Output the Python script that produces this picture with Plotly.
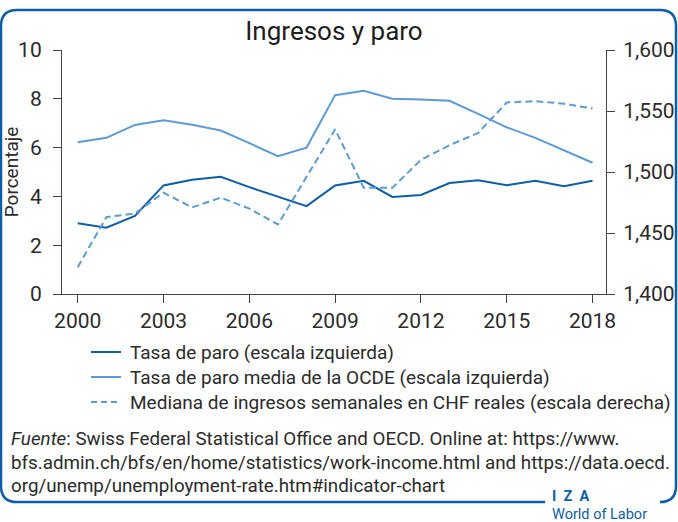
import plotly.graph_objects as go

years = list(range(2000, 2019))
tasa_paro = [2.9, 2.72, 3.2, 4.45, 4.68, 4.8, 4.38, 3.98, 3.6, 4.45,
             4.64, 3.98, 4.06, 4.55, 4.66, 4.46, 4.64, 4.42, 4.64]
tasa_ocde = [6.22, 6.4, 6.93, 7.12, 6.94, 6.7, 6.18, 5.65, 6.0, 8.15,
             8.33, 8.0, 7.97, 7.92, 7.38, 6.83, 6.4, 5.9, 5.38]
ingresos = [1422, 1463, 1466, 1483, 1471, 1479, 1470, 1457, 1496, 1535,
            1487, 1487, 1510, 1522, 1532, 1557, 1558, 1556, 1552]

names = ["Tasa de paro (escala izquierda)",
         "Tasa de paro media de la OCDE (escala izquierda)",
         "Mediana de ingresos semanales en CHF reales (escala derecha)"]
left_ticks = [0, 2, 4, 6, 8, 10]
right_ticks = [1400, 1450, 1500, 1550, 1600]
x_ticks = [2000, 2003, 2006, 2009, 2012, 2015, 2018]

DARK = "#0d5ea6"
LIGHT = "#5c9bd3"
FONT = "Roboto"
TXT = "#2b2b2b"
AX = "#444444"

W, H = 678, 522
L, R, T, B = 62, 606, 50, 294


def px(x):
    return (x - L) / (R - L)


def py(y):
    return (B - y) / (B - T)


styles = [dict(color=DARK, width=2),
          dict(color=LIGHT, width=2),
          dict(color=LIGHT, width=2, dash="7px,4px")]

fig = go.Figure()
fig.add_trace(go.Scatter(x=years, y=tasa_paro, name=names[0], mode="lines",
                         line=styles[0], showlegend=False))
fig.add_trace(go.Scatter(x=years, y=tasa_ocde, name=names[1], mode="lines",
                         line=styles[1], showlegend=False))
fig.add_trace(go.Scatter(x=years, y=ingresos, name=names[2], mode="lines",
                         yaxis="y2", line=styles[2], showlegend=False))

axis_common = dict(showline=True, linecolor=AX, linewidth=1.2, ticks="outside",
                   ticklen=8, tickcolor=AX, tickwidth=1.2, showgrid=False,
                   zeroline=False, automargin=False,
                   tickfont=dict(family=FONT, size=21, color=TXT))

fig.update_layout(
    width=W, height=H,
    margin=dict(l=L, r=W - R, t=T, b=H - B, pad=0, autoexpand=False),
    paper_bgcolor="white", plot_bgcolor="white",
    font=dict(family=FONT, color=TXT),
    title=dict(text="Ingresos y paro", x=0.5, xanchor="center", xref="paper",
               y=1 - 22 / H, yanchor="top",
               font=dict(family=FONT, size=26, color="#1e1e1e")),
    xaxis=dict(range=[1999.45, 2018.47], tickvals=x_ticks, **axis_common),
    yaxis=dict(range=[0, 10], tickvals=left_ticks, ticklabelstandoff=7,
               title=dict(text="Porcentaje", standoff=0,
                          font=dict(family=FONT, size=19, color=TXT)),
               **axis_common),
    yaxis2=dict(range=[1400, 1600], tickvals=right_ticks, tickformat=",d",
                ticklabelstandoff=4,
                overlaying="y", side="right", **axis_common),
    showlegend=False,
)

# Legend (drawn as line samples + text)
leg_y = [352, 377, 402]
for name, st, yy in zip(names, styles, leg_y):
    sample = dict(st)
    if "dash" in sample:
        sample["dash"] = "6px,4px"
    fig.add_shape(type="line", xref="paper", yref="paper",
                  x0=px(91), x1=px(121), y0=py(yy), y1=py(yy), line=sample)
    fig.add_annotation(text=name, xref="paper", yref="paper", x=px(128), y=py(yy),
                       xanchor="left", yanchor="middle", showarrow=False,
                       font=dict(family=FONT, size=19, color=TXT))

src_lines = [
    "<i>Fuente</i>: Swiss Federal Statistical Office and OECD. Online at: https://www.",
    "bfs.admin.ch/bfs/en/home/statistics/work-income.html and https://data.oecd.",
    "org/unemp/unemployment-rate.htm#indicator-chart",
]
src_y = [439, 463, 486]
for t, yy in zip(src_lines, src_y):
    fig.add_annotation(text=t, xref="paper", yref="paper", x=px(9), y=py(yy),
                       xanchor="left", yanchor="middle", showarrow=False,
                       font=dict(family=FONT, size=18.8, color=TXT))

# IZA logo text
fig.add_annotation(text="<b>I  Z  A</b>", xref="paper", yref="paper", x=px(551), y=py(496),
                   xanchor="left", yanchor="middle", showarrow=False, borderpad=0,
                   font=dict(family=FONT, size=14.5, color=DARK))
fig.add_annotation(text="World of Labor", xref="paper", yref="paper", x=px(551), y=py(514),
                   xanchor="left", yanchor="middle", showarrow=False, borderpad=0,
                   font=dict(family=FONT, size=14.5, color=DARK))

# Rounded border with a gap for the logo
r = 16
x0, x1, y0, y1 = 1, 676, 10, 502
path_main = (f"M {px(545)},{py(y1)} L {px(x0 + r)},{py(y1)} "
             f"Q {px(x0)},{py(y1)} {px(x0)},{py(y1 - r)} "
             f"L {px(x0)},{py(y0 + r)} Q {px(x0)},{py(y0)} {px(x0 + r)},{py(y0)} "
             f"L {px(x1 - r)},{py(y0)} Q {px(x1)},{py(y0)} {px(x1)},{py(y0 + r)} "
             f"L {px(x1)},{py(y1 - r)} Q {px(x1)},{py(y1)} {px(x1 - r)},{py(y1)} "
             f"L {px(665)},{py(y1)}")
fig.add_shape(type="path", path=path_main, xref="paper", yref="paper",
              line=dict(color=DARK, width=2.5), layer="below")

fig.write_html("out.html", config={"displayModeBar": False},
               post_script="document.body.style.margin='0';document.body.style.overflow='hidden';")
